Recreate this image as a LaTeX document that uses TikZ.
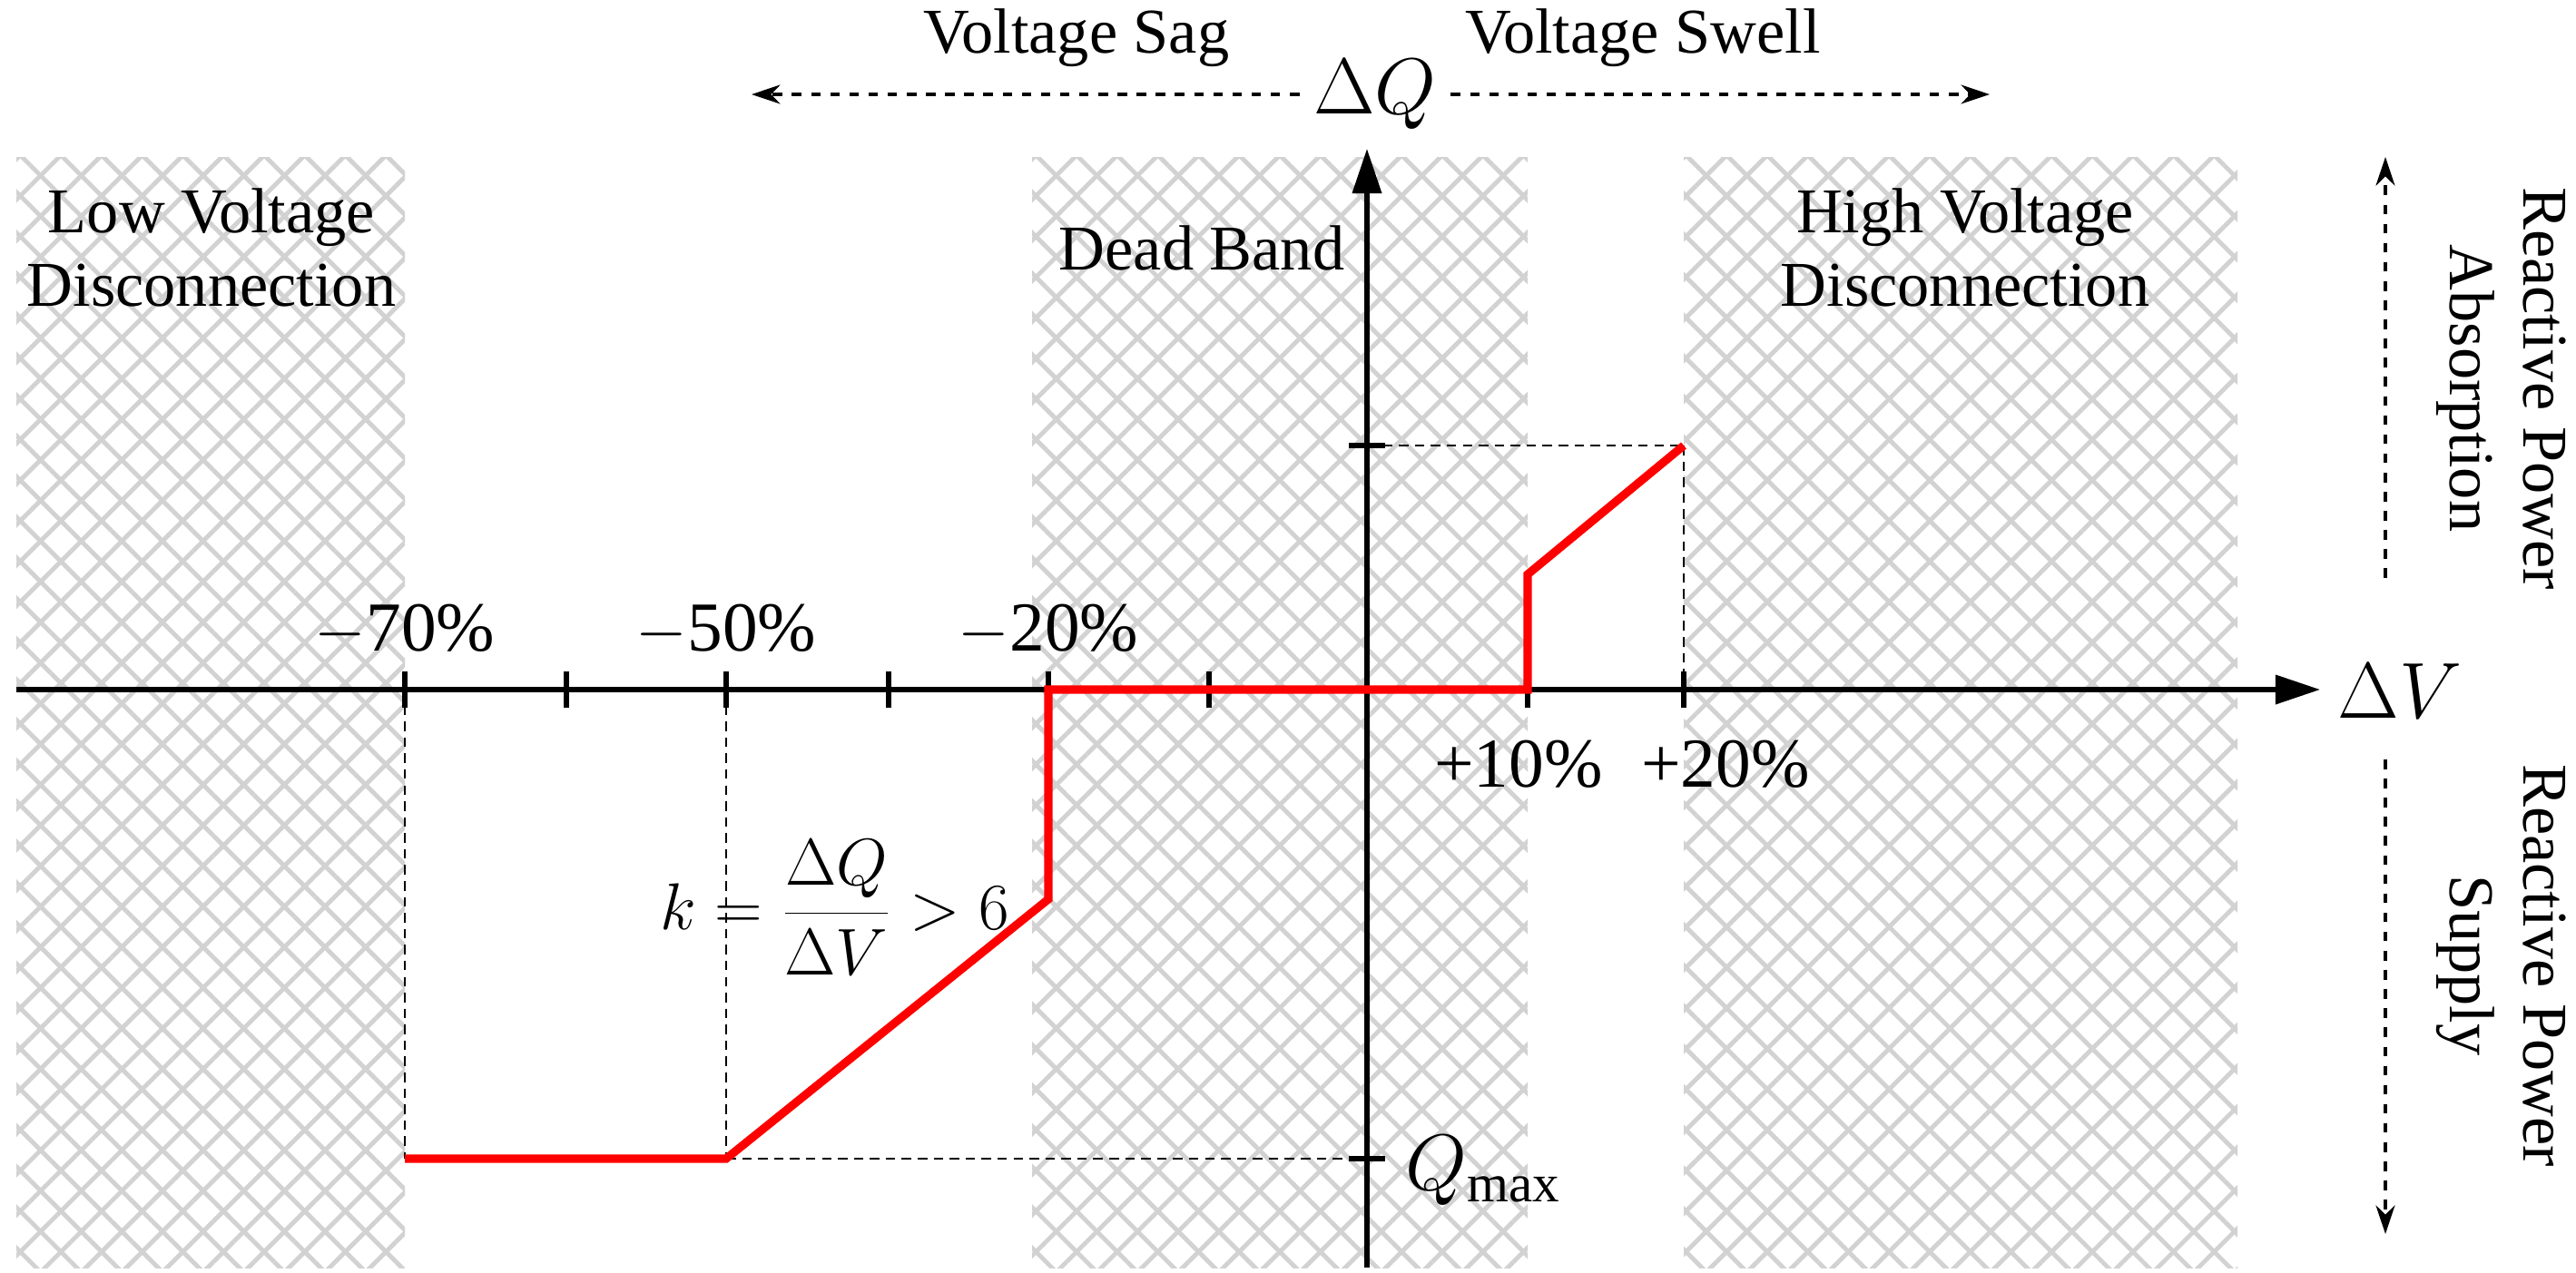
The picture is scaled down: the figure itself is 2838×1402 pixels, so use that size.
\documentclass[tikz,border=0pt]{standalone}
\usepackage{fontspec}
\setmainfont{Liberation Serif}
\usetikzlibrary{patterns.meta,arrows.meta}
\begin{document}
\begin{tikzpicture}[x=0.01cm,y=-0.01cm,
  lbl/.style={font=\fontsize{20}{23}\selectfont, align=center, inner sep=0pt},
  big/.style={font=\fontsize{22}{24}\selectfont},
  hatchA/.style={pattern={Lines[angle=45,distance=9pt,line width=1.4pt]},pattern color=gray!35},
  hatchB/.style={pattern={Lines[angle=-45,distance=9pt,line width=1.4pt]},pattern color=gray!35},
  axis/.style={line width=1.5pt,-{Triangle[length=14pt,width=9pt]}},
  thin dash/.style={densely dashed, line width=0.6pt},
  darrow/.style={dashed, line width=0.9pt,-{Stealth[length=9pt,width=6pt]}},
  curve/.style={red,line width=2.6pt,line join=miter},
  tick/.style={line width=1.8pt}]
\useasboundingbox (0,0) rectangle (2838,1402);
% hatched regions
\foreach \a/\b in {18/446,1137/1683,1855/2465}{
  \fill[hatchA] (\a,173) rectangle (\b,1397);
  \fill[hatchB] (\a,173) rectangle (\b,1397);
}
% coordinates
\coordinate (t70) at (446,760);
\coordinate (t60) at (624,760);
\coordinate (t50) at (800,760);
\coordinate (t40) at (979,760);
\coordinate (t20) at (1155,760);
\coordinate (t10) at (1332,760);
\coordinate (p10) at (1683,760);
\coordinate (p20) at (1855,760);
\coordinate (qtop) at (1506,491);
\coordinate (qmax) at (1506,1277);
\coordinate (c1) at (446,1277);
\coordinate (c2) at (800,1277);
\coordinate (c3) at (1155,991);
\coordinate (c4) at (1683,633);
\coordinate (c5) at (1855,491);
% dashed guides
\draw[thin dash] (t70) -- (c1);
\draw[thin dash] (t50) -- (c2);
\draw[thin dash] (c2) -- (qmax);
\draw[thin dash] (qtop) -- (c5);
\draw[thin dash] (c5) -- (p20);
% axes
\coordinate (xs) at (18,760);
\coordinate (xe) at (2556,760);
\coordinate (ys) at (1506,1397);
\coordinate (ye) at (1506,164);
\draw[axis] (xs) -- (xe);
\draw[axis] (ys) -- (ye);
\node[lbl,anchor=west,font=\fontsize{24}{26}\selectfont] (dv) at (2575,762) {$\Delta V$};
\node[lbl,font=\fontsize{24}{26}\selectfont] (dq) at (1515,104) {$\Delta Q$};
% ticks
\foreach \c in {t70,t60,t50,t40,t20,t10,p10,p20}{
  \draw[tick] ([yshift=-0.2cm]\c) -- ([yshift=0.2cm]\c);}
\draw[tick] ([xshift=-0.2cm]qtop) -- ([xshift=0.2cm]qtop);
\draw[tick] ([xshift=-0.2cm]qmax) -- ([xshift=0.2cm]qmax);
% curve
\draw[curve] (c1) -- (c2) -- (c3) -- (t20) -- (p10) -- (c4) -- (c5);
% tick labels
\node[lbl,big] (l70) at (446,695) {$-$70\%};
\node[lbl,big] (l50) at (800,695) {$-$50\%};
\node[lbl,big] (l20) at (1155,695) {$-$20\%};
\node[lbl,big] (l10) at (1673,842) {+10\%};
\node[lbl,big] (l2) at (1901,842) {+20\%};
\node[lbl,anchor=west,font=\fontsize{24}{26}\selectfont] (qm) at (1548,1290) {$Q_{\max}$};
% formula
\node[lbl] (k) at (920,1000) {$k=\displaystyle\frac{\Delta Q}{\Delta V}>6$};
% region labels
\node[lbl] (low) at (233,273) {Low Voltage\\Disconnection};
\node[lbl] (dead) at (1324,273) {Dead Band};
\node[lbl] (high) at (2165,273) {High Voltage\\Disconnection};
% top arrows
\node[lbl] (sag) at (1186,42) {Voltage Sag};
\node[lbl] (swell) at (1810,42) {Voltage Swell};
\coordinate (sagE) at (828,104);
\coordinate (swellE) at (2192,104);
\draw[darrow] (dq.west) ++(-0.15cm,0) coordinate (dqw) -- (sagE);
\draw[darrow] (dq.east) ++(0.15cm,0) coordinate (dqe) -- (swellE);
% right side
\node[lbl,rotate=-90] (abs) at (2756,428) {Reactive Power\\Absorption};
\node[lbl,rotate=-90] (sup) at (2756,1064) {Reactive Power\\Supply};
\coordinate (a1) at (2628,637);
\coordinate (a2) at (2628,173);
\coordinate (b1) at (2628,837);
\coordinate (b2) at (2628,1360);
\draw[darrow] (a1) -- (a2);
\draw[darrow] (b1) -- (b2);
\end{tikzpicture}
\end{document}
